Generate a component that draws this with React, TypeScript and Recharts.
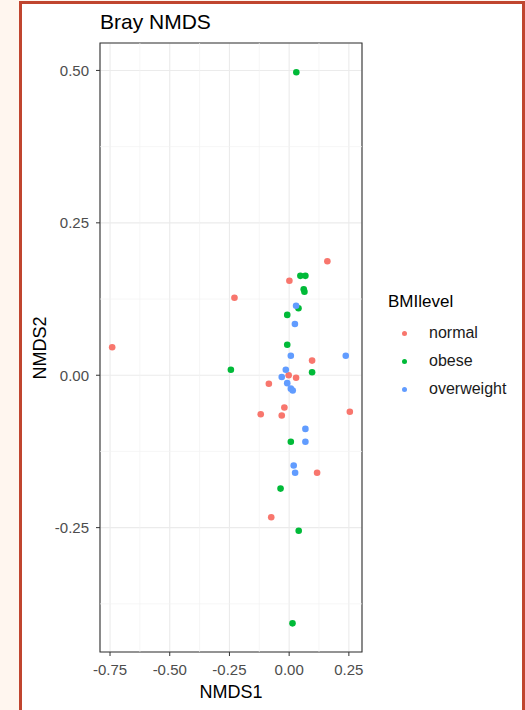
import React from 'react';
import {
  ScatterChart,
  Scatter,
  XAxis,
  YAxis,
  CartesianGrid,
  ReferenceLine,
  ReferenceArea,
  Legend,
} from 'recharts';

const FONT = '"Liberation Sans", Arial, Helvetica, sans-serif';

// NMDS scores per BMI level
const normal = [
  { x: 0.16, y: 0.187 },
  { x: 0.001, y: 0.155 },
  { x: -0.229, y: 0.127 },
  { x: -0.741, y: 0.046 },
  { x: 0.096, y: 0.024 },
  { x: -0.002, y: 0.0 },
  { x: 0.029, y: -0.004 },
  { x: -0.085, y: -0.014 },
  { x: -0.02, y: -0.053 },
  { x: -0.119, y: -0.064 },
  { x: -0.031, y: -0.066 },
  { x: 0.254, y: -0.06 },
  { x: 0.117, y: -0.16 },
  { x: -0.075, y: -0.233 },
];

const obese = [
  { x: 0.03, y: 0.497 },
  { x: 0.047, y: 0.163 },
  { x: 0.068, y: 0.163 },
  { x: 0.061, y: 0.141 },
  { x: 0.064, y: 0.137 },
  { x: 0.039, y: 0.11 },
  { x: -0.008, y: 0.099 },
  { x: -0.008, y: 0.05 },
  { x: -0.244, y: 0.009 },
  { x: 0.096, y: 0.005 },
  { x: 0.007, y: -0.109 },
  { x: -0.036, y: -0.186 },
  { x: 0.04, y: -0.255 },
  { x: 0.014, y: -0.407 },
];

const overweight = [
  { x: 0.029, y: 0.114 },
  { x: 0.024, y: 0.084 },
  { x: 0.007, y: 0.032 },
  { x: 0.237, y: 0.032 },
  { x: -0.014, y: 0.009 },
  { x: -0.031, y: -0.003 },
  { x: -0.008, y: -0.013 },
  { x: 0.007, y: -0.022 },
  { x: 0.015, y: -0.025 },
  { x: 0.068, y: -0.088 },
  { x: 0.068, y: -0.109 },
  { x: 0.019, y: -0.148 },
  { x: 0.025, y: -0.16 },
];

const xDomain = [-0.792, 0.305];
const yDomain = [-0.454, 0.545];
const xTicks = [-0.75, -0.5, -0.25, 0, 0.25];
const yTicks = [-0.25, 0, 0.25, 0.5];
const xMinor = [-0.625, -0.375, -0.125, 0.125];
const yMinor = [-0.375, -0.125, 0.125, 0.375];

const COLORS = { normal: '#F8766D', obese: '#00BA38', overweight: '#619CFF' };

const dot = (color: string) => (props: any) => (
  <circle cx={props.cx} cy={props.cy} r={3.3} fill={color} />
);

const LegendContent = (props: any) => {
  const payload = props.payload || [];
  return (
    <div style={{ fontFamily: FONT, color: '#000' }}>
      <div style={{ fontSize: 17, lineHeight: '24px', height: 24 }}>BMIlevel</div>
      <div style={{ marginTop: 5 }}>
        {payload.map((p: any) => (
          <div
            key={p.value}
            style={{ height: 28, lineHeight: '28px', display: 'flex', alignItems: 'center' }}
          >
            <span
              style={{
                display: 'inline-block',
                width: 5,
                height: 5,
                borderRadius: '50%',
                background: p.color,
                marginLeft: 14,
              }}
            />
            <span style={{ marginLeft: 22, fontSize: 16, color: '#1a1a1a' }}>{p.value}</span>
          </div>
        ))}
      </div>
    </div>
  );
};

export default function App() {
  const tickStyle = { fill: '#4d4d4d', fontSize: 15, fontFamily: FONT };
  return (
    <div
      style={{
        position: 'absolute',
        left: 0,
        top: 0,
        width: 525,
        height: 710,
        background: '#fff6ef',
        overflow: 'hidden',
        fontFamily: FONT,
      }}
    >
      <div
        style={{
          position: 'absolute',
          left: 19,
          top: 1,
          width: 506,
          height: 730,
          boxSizing: 'border-box',
          border: '3px solid #c0452f',
          borderBottom: 'none',
          background: '#ffffff',
        }}
      />
      <div
        style={{
          position: 'absolute',
          left: 100,
          top: 11,
          fontSize: 21,
          lineHeight: '21px',
          color: '#000',
          whiteSpace: 'nowrap',
        }}
      >
        Bray NMDS
      </div>
      <div
        style={{
          position: 'absolute',
          left: 231,
          top: 692,
          transform: 'translate(-50%, -50%)',
          fontSize: 18,
          color: '#000',
          whiteSpace: 'nowrap',
        }}
      >
        NMDS1
      </div>
      <div
        style={{
          position: 'absolute',
          left: 40,
          top: 348,
          transform: 'translate(-50%, -50%) rotate(-90deg)',
          fontSize: 18,
          color: '#000',
          whiteSpace: 'nowrap',
        }}
      >
        NMDS2
      </div>
      <div style={{ position: 'absolute', left: 0, top: 0 }}>
        <ScatterChart
          width={525}
          height={710}
          margin={{ top: 43, right: 163, bottom: 28, left: 55 }}
        >
          <CartesianGrid stroke="#ebebeb" strokeWidth={1.1} />
          {xMinor.map((v) => (
            <ReferenceLine key={'xm' + v} x={v} stroke="#f2f2f2" strokeWidth={0.7} />
          ))}
          {yMinor.map((v) => (
            <ReferenceLine key={'ym' + v} y={v} stroke="#f2f2f2" strokeWidth={0.7} />
          ))}
          <XAxis
            type="number"
            dataKey="x"
            domain={xDomain}
            allowDataOverflow
            ticks={xTicks}
            tickFormatter={(v: number) => v.toFixed(2)}
            tickSize={4}
            tickMargin={8}
            axisLine={false}
            tickLine={{ stroke: '#333333', strokeWidth: 1 }}
            tick={tickStyle}
            height={30}
            interval={0}
          />
          <YAxis
            type="number"
            dataKey="y"
            domain={yDomain}
            allowDataOverflow
            ticks={yTicks}
            tickFormatter={(v: number) => v.toFixed(2)}
            tickSize={4}
            tickMargin={7}
            axisLine={false}
            tickLine={{ stroke: '#333333', strokeWidth: 1 }}
            tick={tickStyle}
            width={45}
            interval={0}
          />
          <ReferenceArea
            x1={xDomain[0]}
            x2={xDomain[1]}
            y1={yDomain[0]}
            y2={yDomain[1]}
            fill="none"
            fillOpacity={0}
            stroke="#333333"
            strokeWidth={1.1}
            ifOverflow="visible"
          />
          <Scatter
            name="normal"
            data={normal}
            fill={COLORS.normal}
            shape={dot(COLORS.normal)}
            isAnimationActive={false}
          />
          <Scatter
            name="obese"
            data={obese}
            fill={COLORS.obese}
            shape={dot(COLORS.obese)}
            isAnimationActive={false}
          />
          <Scatter
            name="overweight"
            data={overweight}
            fill={COLORS.overweight}
            shape={dot(COLORS.overweight)}
            isAnimationActive={false}
          />
          <Legend
            layout="vertical"
            align="center"
            verticalAlign="middle"
            content={<LegendContent />}
            wrapperStyle={{ left: 388, top: 290, width: 135, height: 120 }}
          />
        </ScatterChart>
      </div>
    </div>
  );
}
